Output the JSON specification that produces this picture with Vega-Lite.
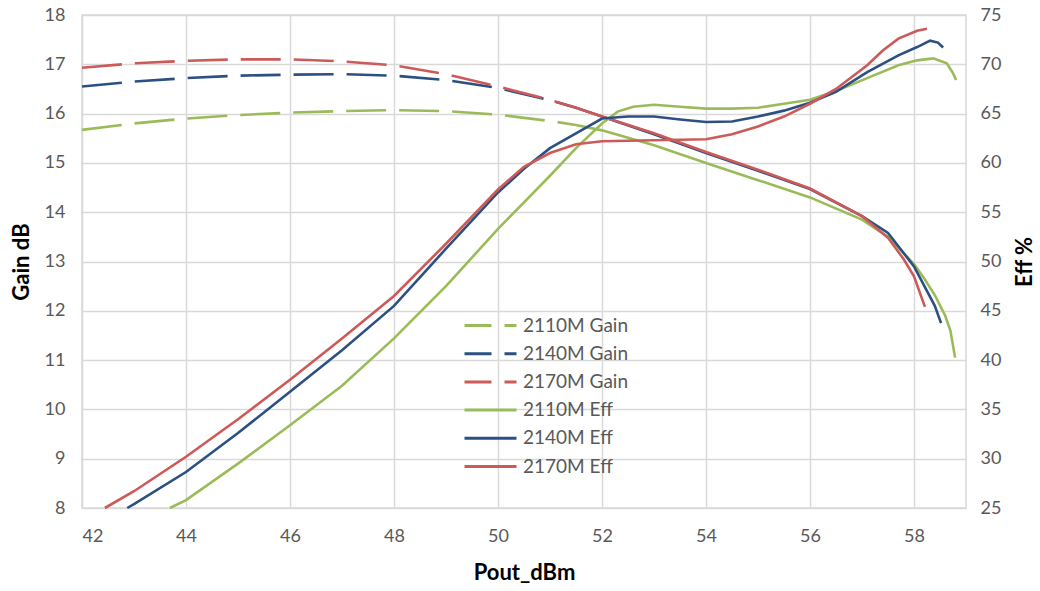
{
"$schema": "https://vega.github.io/schema/vega-lite/v6.json",
"width": 884, "height": 493,
"autosize": {"type": "none"},
"padding": {"left": 82, "top": 15, "right": 74, "bottom": 83},
"background": "white",
"config": {
  "font": "Lato",
  "view": {"stroke": "#d9d9d9", "strokeWidth": 1.5},
  "axis": {"labelColor": "#595959", "labelFontSize": 18, "titleFontSize": 22, "titleFontWeight": "bold", "titleColor": "#000000", "ticks": false, "domain": false, "gridColor": "#d9d9d9", "gridWidth": 1.5, "titleFont": "Lato", "labelFont": "Lato"},
  "legend": {"labelFont": "Lato"}
},
"datasets": {
 "curves": [
  {"series":"2110M Gain","type":"Gain","pout":42,"val":15.67},
  {"series":"2110M Gain","type":"Gain","pout":43,"val":15.8},
  {"series":"2110M Gain","type":"Gain","pout":44,"val":15.9},
  {"series":"2110M Gain","type":"Gain","pout":45,"val":15.97},
  {"series":"2110M Gain","type":"Gain","pout":46,"val":16.02},
  {"series":"2110M Gain","type":"Gain","pout":47,"val":16.05},
  {"series":"2110M Gain","type":"Gain","pout":48,"val":16.07},
  {"series":"2110M Gain","type":"Gain","pout":49,"val":16.05},
  {"series":"2110M Gain","type":"Gain","pout":50,"val":15.98},
  {"series":"2110M Gain","type":"Gain","pout":51,"val":15.85},
  {"series":"2110M Gain","type":"Gain","pout":51.5,"val":15.77},
  {"series":"2110M Gain","type":"Gain","pout":52,"val":15.66},
  {"series":"2110M Gain","type":"Gain","pout":53,"val":15.36},
  {"series":"2110M Gain","type":"Gain","pout":54,"val":15.0},
  {"series":"2110M Gain","type":"Gain","pout":55,"val":14.65},
  {"series":"2110M Gain","type":"Gain","pout":56,"val":14.3},
  {"series":"2110M Gain","type":"Gain","pout":57,"val":13.85},
  {"series":"2110M Gain","type":"Gain","pout":57.5,"val":13.5},
  {"series":"2110M Gain","type":"Gain","pout":58,"val":12.95},
  {"series":"2110M Gain","type":"Gain","pout":58.2,"val":12.65},
  {"series":"2110M Gain","type":"Gain","pout":58.4,"val":12.32},
  {"series":"2110M Gain","type":"Gain","pout":58.6,"val":11.9},
  {"series":"2110M Gain","type":"Gain","pout":58.7,"val":11.6},
  {"series":"2110M Gain","type":"Gain","pout":58.79,"val":11.05},

  {"series":"2140M Gain","type":"Gain","pout":42,"val":16.55},
  {"series":"2140M Gain","type":"Gain","pout":43,"val":16.65},
  {"series":"2140M Gain","type":"Gain","pout":44,"val":16.72},
  {"series":"2140M Gain","type":"Gain","pout":45,"val":16.77},
  {"series":"2140M Gain","type":"Gain","pout":46,"val":16.79},
  {"series":"2140M Gain","type":"Gain","pout":47,"val":16.8},
  {"series":"2140M Gain","type":"Gain","pout":48,"val":16.77},
  {"series":"2140M Gain","type":"Gain","pout":49,"val":16.68},
  {"series":"2140M Gain","type":"Gain","pout":50,"val":16.52},
  {"series":"2140M Gain","type":"Gain","pout":51,"val":16.27},
  {"series":"2140M Gain","type":"Gain","pout":51.5,"val":16.12},
  {"series":"2140M Gain","type":"Gain","pout":52,"val":15.94},
  {"series":"2140M Gain","type":"Gain","pout":53,"val":15.58},
  {"series":"2140M Gain","type":"Gain","pout":54,"val":15.2},
  {"series":"2140M Gain","type":"Gain","pout":55,"val":14.84},
  {"series":"2140M Gain","type":"Gain","pout":56,"val":14.47},
  {"series":"2140M Gain","type":"Gain","pout":57,"val":13.92},
  {"series":"2140M Gain","type":"Gain","pout":57.5,"val":13.58},
  {"series":"2140M Gain","type":"Gain","pout":58,"val":12.9},
  {"series":"2140M Gain","type":"Gain","pout":58.2,"val":12.5},
  {"series":"2140M Gain","type":"Gain","pout":58.4,"val":12.1},
  {"series":"2140M Gain","type":"Gain","pout":58.52,"val":11.75},

  {"series":"2170M Gain","type":"Gain","pout":42,"val":16.93},
  {"series":"2170M Gain","type":"Gain","pout":43,"val":17.02},
  {"series":"2170M Gain","type":"Gain","pout":44,"val":17.07},
  {"series":"2170M Gain","type":"Gain","pout":45,"val":17.1},
  {"series":"2170M Gain","type":"Gain","pout":46,"val":17.1},
  {"series":"2170M Gain","type":"Gain","pout":47,"val":17.06},
  {"series":"2170M Gain","type":"Gain","pout":48,"val":16.98},
  {"series":"2170M Gain","type":"Gain","pout":49,"val":16.8},
  {"series":"2170M Gain","type":"Gain","pout":50,"val":16.55},
  {"series":"2170M Gain","type":"Gain","pout":51,"val":16.28},
  {"series":"2170M Gain","type":"Gain","pout":51.5,"val":16.12},
  {"series":"2170M Gain","type":"Gain","pout":52,"val":15.94},
  {"series":"2170M Gain","type":"Gain","pout":53,"val":15.6},
  {"series":"2170M Gain","type":"Gain","pout":54,"val":15.22},
  {"series":"2170M Gain","type":"Gain","pout":55,"val":14.86},
  {"series":"2170M Gain","type":"Gain","pout":56,"val":14.48},
  {"series":"2170M Gain","type":"Gain","pout":57,"val":13.92},
  {"series":"2170M Gain","type":"Gain","pout":57.5,"val":13.48},
  {"series":"2170M Gain","type":"Gain","pout":57.8,"val":13.05},
  {"series":"2170M Gain","type":"Gain","pout":58,"val":12.7},
  {"series":"2170M Gain","type":"Gain","pout":58.21,"val":12.08},

  {"series":"2110M Eff","type":"Eff","pout":43.69,"val":25},
  {"series":"2110M Eff","type":"Eff","pout":44,"val":25.8},
  {"series":"2110M Eff","type":"Eff","pout":45,"val":29.5},
  {"series":"2110M Eff","type":"Eff","pout":46,"val":33.4},
  {"series":"2110M Eff","type":"Eff","pout":47,"val":37.4},
  {"series":"2110M Eff","type":"Eff","pout":48,"val":42.2},
  {"series":"2110M Eff","type":"Eff","pout":49,"val":47.5},
  {"series":"2110M Eff","type":"Eff","pout":50,"val":53.3},
  {"series":"2110M Eff","type":"Eff","pout":50.5,"val":56.0},
  {"series":"2110M Eff","type":"Eff","pout":51,"val":58.7},
  {"series":"2110M Eff","type":"Eff","pout":51.5,"val":61.5},
  {"series":"2110M Eff","type":"Eff","pout":52,"val":64.0},
  {"series":"2110M Eff","type":"Eff","pout":52.3,"val":65.2},
  {"series":"2110M Eff","type":"Eff","pout":52.6,"val":65.7},
  {"series":"2110M Eff","type":"Eff","pout":53,"val":65.9},
  {"series":"2110M Eff","type":"Eff","pout":53.5,"val":65.7},
  {"series":"2110M Eff","type":"Eff","pout":54,"val":65.5},
  {"series":"2110M Eff","type":"Eff","pout":54.5,"val":65.5},
  {"series":"2110M Eff","type":"Eff","pout":55,"val":65.6},
  {"series":"2110M Eff","type":"Eff","pout":55.5,"val":66.0},
  {"series":"2110M Eff","type":"Eff","pout":56,"val":66.4},
  {"series":"2110M Eff","type":"Eff","pout":56.5,"val":67.3},
  {"series":"2110M Eff","type":"Eff","pout":57.1,"val":68.6},
  {"series":"2110M Eff","type":"Eff","pout":57.7,"val":69.9},
  {"series":"2110M Eff","type":"Eff","pout":58.06,"val":70.4},
  {"series":"2110M Eff","type":"Eff","pout":58.37,"val":70.6},
  {"series":"2110M Eff","type":"Eff","pout":58.63,"val":70.1},
  {"series":"2110M Eff","type":"Eff","pout":58.75,"val":69.1},
  {"series":"2110M Eff","type":"Eff","pout":58.81,"val":68.4},

  {"series":"2140M Eff","type":"Eff","pout":42.87,"val":25},
  {"series":"2140M Eff","type":"Eff","pout":43,"val":25.4},
  {"series":"2140M Eff","type":"Eff","pout":44,"val":28.65},
  {"series":"2140M Eff","type":"Eff","pout":45,"val":32.6},
  {"series":"2140M Eff","type":"Eff","pout":46,"val":36.8},
  {"series":"2140M Eff","type":"Eff","pout":47,"val":41.0},
  {"series":"2140M Eff","type":"Eff","pout":48,"val":45.5},
  {"series":"2140M Eff","type":"Eff","pout":49,"val":51.3},
  {"series":"2140M Eff","type":"Eff","pout":50,"val":57.0},
  {"series":"2140M Eff","type":"Eff","pout":50.5,"val":59.4},
  {"series":"2140M Eff","type":"Eff","pout":51,"val":61.5},
  {"series":"2140M Eff","type":"Eff","pout":51.5,"val":63.0},
  {"series":"2140M Eff","type":"Eff","pout":52,"val":64.5},
  {"series":"2140M Eff","type":"Eff","pout":52.5,"val":64.7},
  {"series":"2140M Eff","type":"Eff","pout":53,"val":64.7},
  {"series":"2140M Eff","type":"Eff","pout":53.5,"val":64.4},
  {"series":"2140M Eff","type":"Eff","pout":54,"val":64.15},
  {"series":"2140M Eff","type":"Eff","pout":54.5,"val":64.2},
  {"series":"2140M Eff","type":"Eff","pout":55,"val":64.7},
  {"series":"2140M Eff","type":"Eff","pout":55.5,"val":65.3},
  {"series":"2140M Eff","type":"Eff","pout":56,"val":66.1},
  {"series":"2140M Eff","type":"Eff","pout":56.5,"val":67.2},
  {"series":"2140M Eff","type":"Eff","pout":57.1,"val":69.2},
  {"series":"2140M Eff","type":"Eff","pout":57.7,"val":70.9},
  {"series":"2140M Eff","type":"Eff","pout":58.06,"val":71.75},
  {"series":"2140M Eff","type":"Eff","pout":58.31,"val":72.4},
  {"series":"2140M Eff","type":"Eff","pout":58.46,"val":72.2},
  {"series":"2140M Eff","type":"Eff","pout":58.56,"val":71.7},

  {"series":"2170M Eff","type":"Eff","pout":42.44,"val":25},
  {"series":"2170M Eff","type":"Eff","pout":43,"val":26.7},
  {"series":"2170M Eff","type":"Eff","pout":44,"val":30.2},
  {"series":"2170M Eff","type":"Eff","pout":45,"val":34.0},
  {"series":"2170M Eff","type":"Eff","pout":46,"val":38.0},
  {"series":"2170M Eff","type":"Eff","pout":47,"val":42.2},
  {"series":"2170M Eff","type":"Eff","pout":48,"val":46.5},
  {"series":"2170M Eff","type":"Eff","pout":49,"val":51.8},
  {"series":"2170M Eff","type":"Eff","pout":50,"val":57.3},
  {"series":"2170M Eff","type":"Eff","pout":50.5,"val":59.6},
  {"series":"2170M Eff","type":"Eff","pout":51,"val":61.0},
  {"series":"2170M Eff","type":"Eff","pout":51.5,"val":61.9},
  {"series":"2170M Eff","type":"Eff","pout":52,"val":62.2},
  {"series":"2170M Eff","type":"Eff","pout":53,"val":62.3},
  {"series":"2170M Eff","type":"Eff","pout":54,"val":62.4},
  {"series":"2170M Eff","type":"Eff","pout":54.5,"val":62.9},
  {"series":"2170M Eff","type":"Eff","pout":55,"val":63.7},
  {"series":"2170M Eff","type":"Eff","pout":55.5,"val":64.7},
  {"series":"2170M Eff","type":"Eff","pout":56,"val":66.0},
  {"series":"2170M Eff","type":"Eff","pout":56.5,"val":67.5},
  {"series":"2170M Eff","type":"Eff","pout":57.1,"val":69.9},
  {"series":"2170M Eff","type":"Eff","pout":57.4,"val":71.4},
  {"series":"2170M Eff","type":"Eff","pout":57.7,"val":72.6},
  {"series":"2170M Eff","type":"Eff","pout":58.06,"val":73.4},
  {"series":"2170M Eff","type":"Eff","pout":58.25,"val":73.6}
 ]
},
"data": {"name": "curves"},
"layer": [
  {
    "layer": [
      {
        "transform": [{"filter": "datum.type == 'Gain' && datum.pout <= 51.5"}],
        "mark": {"type": "line", "strokeWidth": 2.6, "strokeDash": [40, 13], "strokeCap": "butt"},
        "encoding": {
          "x": {"field": "pout", "type": "quantitative", "scale": {"domain": [42, 59], "nice": false}, "axis": {"title": "Pout_dBm", "values": [42, 44, 46, 48, 50, 52, 54, 56, 58], "labelPadding": 19, "titlePadding": 17, "grid": true}},
          "y": {"field": "val", "type": "quantitative", "scale": {"domain": [8, 18], "nice": false, "zero": false}, "axis": {"title": "Gain dB", "values": [8, 9, 10, 11, 12, 13, 14, 15, 16, 17, 18], "labelPadding": 17, "titlePadding": 11, "grid": true}},
          "color": {"field": "series", "type": "nominal", "sort": null,
            "scale": {"domain": ["2110M Gain", "2140M Gain", "2170M Gain", "2110M Eff", "2140M Eff", "2170M Eff"], "range": ["#9bbb59", "#2c5082", "#cc5a58", "#9bbb59", "#2c5082", "#cc5a58"]},
            "legend": {"orient": "none", "legendX": 397, "legendY": 299, "title": null, "symbolType": "M-2.6,0H2.6", "symbolSize": 400, "symbolStrokeWidth": 3, "labelFontSize": 19, "labelColor": "#595959", "rowPadding": 6.2, "labelOffset": 21, "padding": 0,
              "encode": {"symbols": {"update": {"strokeDash": {"signal": "indexof(datum.value, 'Gain') >= 0 ? [27, 13] : []"}}}}}}
        }
      },
      {
        "transform": [{"filter": "datum.type == 'Gain' && datum.pout >= 51.5"}],
        "mark": {"type": "line", "strokeWidth": 2.6},
        "encoding": {
          "x": {"field": "pout", "type": "quantitative"},
          "y": {"field": "val", "type": "quantitative"},
          "color": {"field": "series", "type": "nominal"}
        }
      }
    ]
  },
  {
    "transform": [{"filter": "datum.type == 'Eff'"}],
    "mark": {"type": "line", "strokeWidth": 2.6},
    "encoding": {
      "x": {"field": "pout", "type": "quantitative"},
      "y": {"field": "val", "type": "quantitative", "scale": {"domain": [25, 75], "nice": false, "zero": false}, "axis": {"orient": "right", "title": "Eff %", "values": [25, 30, 35, 40, 45, 50, 55, 60, 65, 70, 75], "labelPadding": 14, "titlePadding": 36, "titleAngle": 270, "grid": false}},
      "color": {"field": "series", "type": "nominal"}
    }
  }
],
"resolve": {"scale": {"y": "independent"}}
}
